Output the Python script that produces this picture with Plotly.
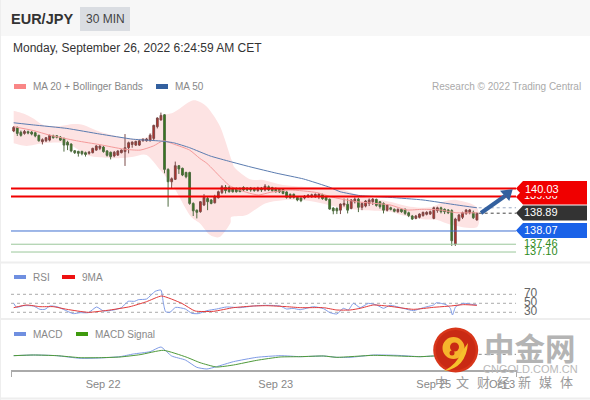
import plotly.graph_objects as go

open_ = [142.68,142.85,142.62,142.57,142.65,142.63,142.60,142.48,142.19,142.23,142.26,142.46,142.46,142.40,142.34,142.16,142.08,141.77,141.74,141.74,141.68,141.65,141.68,141.80,141.88,141.94,141.76,141.70,141.53,141.57,141.68,141.73,141.91,142.06,142.03,142.03,142.23,142.23,142.23,142.34,142.88,143.19,143.43,140.91,140.34,140.45,141.08,140.96,140.77,140.77,139.34,139.03,138.96,139.27,139.57,139.50,139.37,139.60,139.84,140.08,140.08,140.05,140.03,140.03,140.08,140.05,140.05,140.03,139.93,140.05,139.96,140.11,140.07,140.03,139.99,139.99,139.87,139.76,139.76,139.62,139.59,139.59,139.65,139.65,139.65,139.65,139.74,139.65,139.53,139.13,139.11,139.03,139.27,139.30,139.11,139.42,139.54,139.16,139.22,139.34,139.42,139.53,139.42,139.34,139.03,139.14,139.07,138.96,139.07,139.07,138.91,138.76,138.65,138.70,138.78,138.84,138.85,138.65,139.01,139.14,139.07,139.04,139.01,137.47,138.55,138.70,138.88,138.91,138.93,138.58]
high_ = [142.91,142.88,142.70,142.73,142.70,142.68,142.65,142.51,142.34,142.40,142.51,142.51,142.49,142.45,142.37,142.23,142.11,141.80,141.77,141.77,141.73,141.76,141.91,142.03,142.02,141.99,141.80,141.73,141.76,141.79,141.83,142.54,142.19,142.20,142.23,142.26,142.34,142.36,142.57,142.97,143.31,143.53,143.46,140.96,140.54,141.27,141.11,140.99,140.80,140.80,139.39,139.06,139.45,139.77,139.65,139.54,139.74,139.93,140.19,140.19,140.14,140.08,140.08,140.08,140.13,140.08,140.10,140.08,140.11,140.10,140.23,140.17,140.11,140.08,140.03,140.02,139.90,139.80,139.80,139.65,139.62,139.73,139.76,139.79,139.80,139.82,139.79,139.70,139.57,139.16,139.16,139.34,139.57,139.57,139.54,139.62,139.60,139.39,139.50,139.57,139.59,139.56,139.45,139.39,139.30,139.19,139.11,139.11,139.11,139.11,138.96,138.81,138.81,138.88,138.96,138.98,139.01,139.19,139.19,139.19,139.11,139.08,139.07,138.68,138.85,138.96,139.07,139.08,139.01,138.93]
low_ = [142.63,142.45,142.42,142.51,142.53,142.48,142.39,142.19,142.06,142.17,142.20,142.33,142.34,142.22,141.73,141.80,141.70,141.62,141.50,141.56,141.50,141.59,141.65,141.77,141.80,141.68,141.50,141.37,141.47,141.53,141.65,141.07,141.65,141.91,141.99,141.99,142.19,142.19,142.20,142.26,142.80,143.16,140.73,139.19,140.03,140.42,140.70,140.60,140.50,139.28,138.76,138.65,138.91,139.22,139.03,139.30,139.34,139.57,139.77,139.80,139.84,139.84,139.84,139.87,139.91,139.91,139.88,139.88,139.88,139.87,139.90,139.91,139.88,139.84,139.82,139.76,139.56,139.56,139.56,139.44,139.40,139.53,139.60,139.60,139.60,139.54,139.51,139.45,139.05,138.84,138.85,138.85,139.19,138.88,139.07,139.34,138.94,139.03,139.16,139.22,139.27,139.19,139.10,138.88,138.97,139.02,138.93,138.91,138.91,138.81,138.71,138.58,138.61,138.65,138.73,138.79,138.81,138.61,138.91,138.88,138.85,138.85,137.38,137.38,138.50,138.62,138.81,138.84,138.62,138.55]
close_ = [142.85,142.57,142.48,142.66,142.59,142.54,142.45,142.23,142.28,142.37,142.48,142.37,142.39,142.26,142.03,142.03,141.76,141.68,141.65,141.63,141.60,141.70,141.88,141.99,141.99,141.73,141.56,141.50,141.70,141.76,141.80,141.91,142.14,142.17,142.20,142.23,142.30,142.31,142.49,142.94,143.28,143.40,140.91,140.34,140.48,141.08,140.93,140.65,140.57,139.34,139.00,138.93,139.42,139.62,139.42,139.34,139.65,139.88,140.11,139.93,139.88,139.88,139.88,139.88,139.96,139.96,139.96,139.93,140.05,139.96,140.14,139.96,139.93,139.88,139.87,139.80,139.62,139.60,139.62,139.50,139.47,139.68,139.73,139.74,139.76,139.77,139.56,139.50,139.08,139.00,139.00,139.31,139.34,139.03,139.50,139.54,139.16,139.34,139.45,139.50,139.54,139.25,139.19,139.03,139.27,139.07,138.98,139.07,138.96,138.88,138.78,138.62,138.76,138.85,138.93,138.93,138.96,139.14,139.14,138.96,138.96,138.91,137.62,138.62,138.81,138.91,139.04,139.04,138.68,138.88]

ma50_x = [0,5.5,14.8,24,33.3,40.8,44.5,49,54.7,60.3,65.8,73.3,80.7,88.1,90.9,96.5,104.8,114,123.4,129]
ma50 = [143.06,142.96,142.80,142.54,142.30,142.22,142.14,141.91,141.53,141.27,141.03,140.73,140.47,140.08,139.88,139.70,139.62,139.50,139.27,139.14]
ma20_x = [0,5.5,10,17.5,24,30.5,35.2,38.9,41.7,44.5,49,51.8,53.8,58.4,60.3,64.9,68.2,71.4,77,84.4,89,95.5,104.8,109.4,114,118.7,123.4,129]
ma20 = [142.88,142.70,142.49,142.23,142.05,141.85,141.80,141.99,142.23,142.08,141.80,141.42,141.19,140.42,140.14,139.85,139.73,139.85,139.96,139.84,139.62,139.42,139.27,139.04,139.07,139.04,138.91,138.91]
upper_x = [0,2.7,5.5,8.3,13,16.6,19.4,24,28.7,31.5,35.2,38,40.8,44.5,49,51,53.8,57.5,60.7,61.7,65.8,69.5,75,80.7,86.2,91.8,97.4,104.8,110.4,116,119.7,123.4,129]
upper = [143.62,143.49,143.26,142.96,142.91,143.00,142.96,142.65,142.45,142.34,142.34,142.49,143.34,143.53,144.03,144.08,143.80,142.88,141.34,140.96,140.45,140.42,140.19,140.11,140.08,139.96,139.65,139.42,139.19,139.16,139.42,139.50,139.16]
lower_x = [129,122,118,114,108,104.8,98,92,86,80.7,75,70,64.9,60.7,60.3,57.5,54.7,51.9,49,44.5,40.8,37,33.3,28.7,24,20.3,14.8,8.3,3.6,0]
lower = [138.24,138.35,138.58,138.61,138.81,138.96,139.03,139.11,139.34,139.49,139.49,139.34,138.81,138.73,138.42,137.81,137.88,138.42,138.81,140.11,140.88,141.57,141.49,141.42,141.47,141.57,142.11,142.11,141.99,142.11]

rsi_x = [0,0.8,2.7,5.5,7.3,8.7,10.1,12,13.8,16.6,18.5,20.8,23.1,25,27.8,30,31.9,33.7,34.7,37,39.4,41,41.7,42.3,43.5,45.1,47.8,49.6,51.4,53.8,56.5,59.3,63,66.8,70.5,74.2,76,77.8,79.8,83.5,86.3,88.1,90,91.8,93.2,94.6,96.5,98.8,101.1,103,104.8,108.5,111.3,114.1,116.9,117.8,120.6,121.6,122.2,123.1,125.3,127.6,129]
rsi = [49.9,41,44.7,44,36.6,36.6,44,42.5,36.6,27,29.2,29.2,41.8,32.9,35.1,40.3,54.4,54.4,58,59.5,76.6,79.5,49.9,31.4,29.9,41,37.3,27.7,27,33.6,37.3,41.8,40.3,44,45.5,44,37.3,38.8,35.8,42.5,38,29.2,26.2,38.8,35.1,49.9,40.3,49.9,46.2,38.8,45.5,38.8,33.6,40.3,46.2,51.4,46.2,38.8,24,42.5,49.9,47.7,46.2]
rsi_ma_x = [0,3.6,7.3,11,14.8,20.8,26.8,32.4,37,41.2,46.8,50.5,55.6,61.2,66.8,70.5,76,79.8,82.5,86.3,90,93.7,96.5,100.2,104.8,111.3,116.9,121.6,125.3,129]
rsi_ma = [40.3,46.2,42.5,42.5,36.6,29.9,35.1,42.5,53.6,66.2,49.9,32.9,32.1,40.3,44,44.7,42.5,40.3,40.3,40.3,35.1,35.1,38.8,46.2,43.2,36.6,41,44,47,45.5]
rsi_levels = [70,50,30]

macd_x = [0,5.5,12,18.5,24,29.6,33.3,38,41,44,47.8,51,53.8,56.5,61.2,67.7,74.2,79.8,86.3,90,93.7,100.2,106.7,113.2,116.9,129]
macd = [0,0.04,0,-0.16,-0.14,-0.06,0.10,0.24,0.52,-0.02,-0.26,-0.70,-0.80,-0.66,-0.36,-0.10,0,-0.06,-0.02,-0.10,-0.10,0.04,0.02,-0.06,-0.02,0.08]
signal_x = [0,5.5,12,18.5,24,29.6,35.2,41.7,48,51.9,56.5,61.2,67.7,74.2,79.8,86.3,90,100.2,113.2,116.9,129]
signal = [0,0.04,0,-0.12,-0.12,-0.08,0.06,0.32,-0.08,-0.42,-0.68,-0.56,-0.28,-0.08,-0.06,-0.02,-0.10,0.02,-0.06,-0.02,0.04]

resistance = [140.03, 139.66]
support_blue = [138.07]
support_green = [137.46, 137.10]
last_price = 138.89
tick_idx = [24.9, 73, 117, 136]
tick_text = ["Sep 22", "Sep 23", "Sep 25", "Oct 3"]

FONT = "Liberation Sans, Arial, sans-serif"
L, R, T, B = 11, 590, 100, 371
XMIN, XEND, XMAX = -0.75, 139.9, 160.5
LABEL_X = 142.1
def px(x): return (x - L) / (R - L)
def py(y): return (B - y) / (B - T)
def poly(points):
    return "M" + " L".join(f"{px(a):.5f},{py(b):.5f}" for a, b in points) + " Z"
def smooth_path(xs, ys, k=0.14):
    n = len(xs)
    d = f"M{xs[0]},{ys[0]}"
    for i in range(n - 1):
        a, b = max(i - 1, 0), min(i + 2, n - 1)
        c1x, c1y = xs[i] + (xs[i + 1] - xs[a]) * k, ys[i] + (ys[i + 1] - ys[a]) * k
        c2x, c2y = xs[i + 1] - (xs[b] - xs[i]) * k, ys[i + 1] - (ys[b] - ys[i]) * k
        d += f" C{c1x:.3f},{c1y:.3f} {c2x:.3f},{c2y:.3f} {xs[i + 1]},{ys[i + 1]}"
    return d + " Z"

fig = go.Figure()
idx = list(range(len(close_)))
def line(x, y, color, width=1, dash=None, yaxis="y", shape="linear", smoothing=None):
    l = dict(color=color, width=width, shape=shape)
    if dash: l["dash"] = dash
    if smoothing: l["smoothing"] = smoothing
    fig.add_trace(go.Scatter(x=x, y=y, mode="lines", line=l, yaxis=yaxis, hoverinfo="skip", showlegend=False))
def label(x, y, txt, color, size=11, yaxis="y"):
    fig.add_trace(go.Scatter(x=[x], y=[y], mode="text", text=[txt], textposition="middle right",
                             textfont=dict(color=color, size=size, family=FONT), cliponaxis=False,
                             yaxis=yaxis, hoverinfo="skip", showlegend=False))

line(ma20_x, ma20, "#f49a9a", 1, shape="spline", smoothing=0.6)
line(ma50_x, ma50, "#5b7cb0", 1, shape="spline", smoothing=0.4)
line([129.5, XEND], [ma50[-1]] * 2, "#9aa9c4", 1, "dot")
line([129.5, XEND], [last_price] * 2, "#444444", 1, "dot")
fig.add_trace(go.Candlestick(x=idx, open=open_, high=high_, low=low_, close=close_,
                             increasing=dict(line=dict(color="#7a4a48", width=1), fillcolor="#c42a22"),
                             decreasing=dict(line=dict(color="#4f6b40", width=1), fillcolor="#357a18"),
                             whiskerwidth=0, hoverinfo="skip", showlegend=False))
for v in resistance:
    line([XMIN, XEND], [v, v], "#f00000", 2)
for v in support_blue:
    line([XMIN, XEND], [v, v], "#3f6fd0", 1)
for v in support_green:
    line([XMIN, XEND], [v, v], "#9ac79a", 1)

for v in rsi_levels:
    line([XMIN, XEND], [v, v], "#aaaaaa", 1, "dot", yaxis="y2")
    label(LABEL_X, v, str(v), "#666666", 12, yaxis="y2")
line(rsi_x, rsi, "#7f9be6", 1, yaxis="y2", shape="spline", smoothing=0.5)
line(rsi_ma_x, rsi_ma, "#e23a3a", 1, yaxis="y2", shape="spline", smoothing=0.5)

line(macd_x, macd, "#7f9be6", 1, yaxis="y3", shape="spline", smoothing=0.5)
line(signal_x, signal, "#4f9a3a", 1, yaxis="y3", shape="spline", smoothing=0.5)
line([129.5, XEND], [macd[-1]] * 2, "#888888", 1, "dot", yaxis="y3")

label(LABEL_X, resistance[1], f"{resistance[1]:.2f}", "#ffffff")
label(LABEL_X, last_price, f"{last_price:.2f}", "#ffffff")
label(LABEL_X, support_blue[0], f"{support_blue[0]:.2f}", "#ffffff")
for v in support_green:
    label(LABEL_X, v, f"{v:.2f}", "#2e8b22")

shapes = []
def rect(x0, y0, x1, y1, fill, layer="below", linec=None, lw=0):
    shapes.append(dict(type="rect", xref="paper", yref="paper", x0=px(x0), x1=px(x1), y0=py(y0), y1=py(y1),
                       fillcolor=fill, line=dict(width=lw, color=linec or fill), layer=layer))
def tag(cy, color, layer="below"):
    pts = [(516, cy), (523, cy - 7.5), (587, cy - 7.5), (587, cy + 7.5), (523, cy + 7.5)]
    shapes.append(dict(type="path", xref="paper", yref="paper", path=poly(pts), fillcolor=color,
                       line=dict(width=0), layer=layer))
def hline(y, x0, x1, color, w):
    shapes.append(dict(type="line", xref="paper", yref="paper", x0=px(x0), x1=px(x1), y0=py(y), y1=py(y),
                       line=dict(color=color, width=w), layer="below"))

rect(0, 0, 590, 36, "#f7f7f7")
rect(80, 7, 130, 31, "#dadde2")
hline(262.5, 0, 590, "#eeeeee", 2)
hline(319, 0, 590, "#eeeeee", 2)
hline(398.5, 0, 590, "#eeeeee", 2)
shapes.append(dict(type="line", xref="paper", yref="paper", x0=px(0.5), x1=px(0.5), y0=py(0), y1=py(400),
                   line=dict(color="#eeeeee", width=1), layer="below"))
shapes.append(dict(type="path", xref="x", yref="y", path=smooth_path(upper_x + lower_x, upper + lower),
                   fillcolor="#fde3e3", line=dict(width=0), layer="below"))
rect(14, 84, 26, 89, "#f98686")
rect(156, 84, 168, 89, "#33609f")
rect(14, 275, 26, 279, "#6f8fe0")
rect(62, 275, 75, 279, "#ee1111")
rect(14, 332, 26, 336, "#6f8fe0")
rect(76, 332, 88, 336, "#3f9a0e")
hline(371, 11, 517, "#aaaaaa", 2)
for xt in (11.5, 516.5):
    shapes.append(dict(type="line", xref="paper", yref="paper", x0=px(xt), x1=px(xt), y0=py(371), y1=py(377),
                       line=dict(color="#aaaaaa", width=1), layer="below"))
tag(197, "#f00000")
tag(213, "#333333")
tag(230.5, "#1a62e8")
tag(188.5, "#f00000", "above")

shapes.append(dict(type="line", xref="paper", yref="paper", x0=px(481), y0=py(213), x1=px(505), y1=py(196),
                   line=dict(color="#33609f", width=4), layer="above"))
shapes.append(dict(type="path", xref="paper", yref="paper", path=poly([(500, 190.7), (512.7, 189.3), (509.3, 201)]),
                   fillcolor="#33609f", line=dict(width=0), layer="above"))

def circle(cx, cy, r, fill, layer="above"):
    shapes.append(dict(type="circle", xref="paper", yref="paper", x0=px(cx - r), x1=px(cx + r), y0=py(cy - r), y1=py(cy + r),
                       fillcolor=fill, line=dict(width=0), layer=layer))
circle(455.7, 350, 22.5, "#d8361a")
circle(455.7, 350, 20, "#c92a14")
circle(453.5, 348, 11, "#f6b42c")
shapes.append(dict(type="path", xref="paper", yref="paper",
                   path=f"M{px(444)},{py(371)} Q{px(466)},{py(368)} {px(468)},{py(343)} L{px(461)},{py(353)} Q{px(457)},{py(364)} {px(444)},{py(371)} Z",
                   fillcolor="#f6c22c", line=dict(width=0), layer="above"))
circle(454.5, 347, 4.5, "#c92a14")
circle(452, 353, 2.5, "#c92a14")

anns = []
def ann(x, y, text, size, color, anchor="left", bold=False, family=FONT):
    t = f"<b>{text}</b>" if bold else text
    anns.append(dict(xref="paper", yref="paper", x=px(x), y=py(y), text=t, showarrow=False, xanchor=anchor, yanchor="middle",
                     font=dict(size=size, color=color, family=family), borderpad=0, borderwidth=0))
ann(11, 19, "EUR/JPY", 14.5, "#333333", bold=True)
ann(105, 19, "30 MIN", 12, "#444444", "center")
ann(13, 48, "Monday, September 26, 2022 6:24:59 AM CET", 12, "#333333")
ann(33, 86, "MA 20 + Bollinger Bands", 10, "#888888")
ann(175, 86, "MA 50", 10, "#888888")
ann(581, 86, "Research © 2022 Trading Central", 10, "#aaaaaa", "right")
ann(33, 277, "RSI", 10, "#888888")
ann(82, 277, "9MA", 10, "#888888")
ann(33, 334, "MACD", 10, "#888888")
ann(95, 334, "MACD Signal", 10, "#888888")
ann(525, 188.5, f"{resistance[0]:.2f}", 11, "#ffffff")
CJK = "Noto Sans CJK SC, sans-serif"
ann(530, 346.5, "中金网", 30.5, "#b4b4b4", "center", True, CJK)
ann(530, 369, "CNGOLD.COM.CN", 11, "#b9b9b9", "center")
for i, ch in enumerate("中文财经新媒体"):
    ann(441.7 + i * 20.75, 382, ch, 13, "#9a9a9a", "center", False, CJK)

hidden = dict(visible=False, fixedrange=True)
fig.update_layout(
    width=590, height=400, autosize=False,
    margin=dict(l=L, r=590 - R, t=T, b=400 - B, pad=0),
    paper_bgcolor="#ffffff", plot_bgcolor="rgba(0,0,0,0)", showlegend=False,
    shapes=shapes, annotations=anns,
    xaxis=dict(range=[XMIN, XMAX], anchor="y3", rangeslider=dict(visible=False), showgrid=False, zeroline=False,
               showline=False, tickmode="array", tickvals=tick_idx, ticktext=tick_text,
               ticks="outside", ticklen=3, tickcolor="rgba(0,0,0,0)", tickfont=dict(size=11, color="#888888", family=FONT)),
    yaxis=dict(domain=[py(262), 1], range=[136.64, 144.11], **hidden),
    yaxis2=dict(domain=[py(318), py(263)], range=[17.3, 139.6], **hidden),
    yaxis3=dict(domain=[0, py(322)], range=[-0.92, 2.02], **hidden),
)
fig.write_html("out.html", config=dict(displayModeBar=False),
               post_script="document.body.style.margin='0';document.body.style.overflow='hidden';")
